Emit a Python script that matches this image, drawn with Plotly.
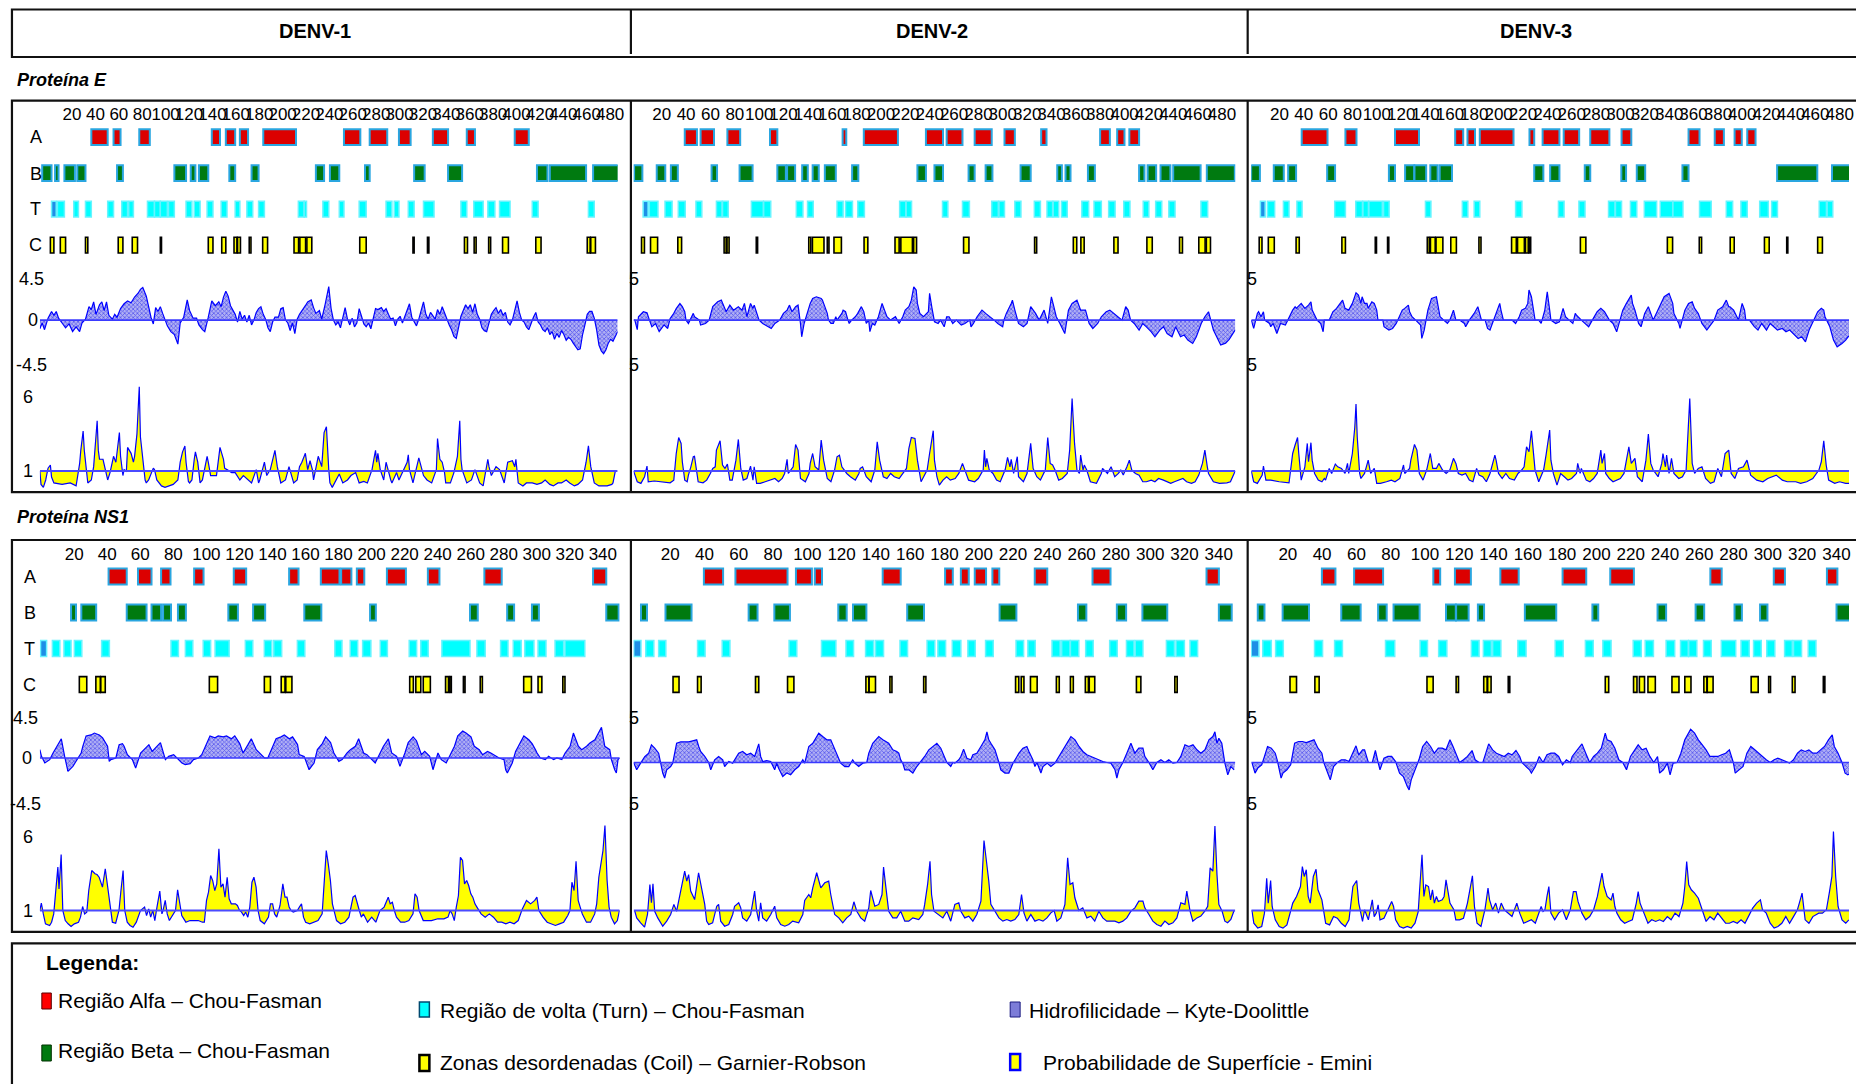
import plotly.graph_objects as go

W, H = 1856, 1084


def fx(p):
    return p / W


def fy(p):
    return 1 - p / H


COLUMNS = ["DENV-1", "DENV-2", "DENV-3"]
PROTEINS = ["Proteína E", "Proteína NS1"]
ROW_LABELS = ["A", "B", "T", "C"]
HYD_LABELS = ["4.5", "0", "-4.5"]
SUR_LABELS = ["6", "1"]
E_TICKS = list(range(20, 481, 20))
NS1_TICKS = list(range(20, 341, 20))
E_LEN = 495
NS1_LEN = 352

LEGEND_TITLE = "Legenda:"
LEGEND_ITEMS = [
    "Região Alfa – Chou-Fasman",
    "Região Beta – Chou-Fasman",
    "Região de volta (Turn) – Chou-Fasman",
    "Zonas desordenadas (Coil) – Garnier-Robson",
    "Hidrofilicidade – Kyte-Doolittle",
    "Probabilidade de Superfície - Emini",
]

# ---------------- secondary structure regions (start, end residue) ----------------
E1_A = [(45, 59), (64, 70), (86, 95), (148, 155), (160, 168), (172, 179), (192, 220), (261, 275), (283, 298),
        (308, 318), (337, 350), (366, 373), (407, 419)]
E1_B = [(3, 11), (14, 17), (22, 31), (33, 40), (67, 72), (116, 126), (130, 134), (137, 145), (163, 168), (182, 188),
        (237, 244), (249, 257), (279, 283), (321, 330), (350, 362), (426, 435), (437, 468), (474, 496)]
E1_T = [(11, 15), (16, 22), (30, 34), (40, 45), (59, 64), (71, 76), (77, 81), (93, 99), (99, 104), (104, 110),
        (111, 116), (126, 131), (133, 138), (144, 149), (156, 161), (168, 172), (178, 183), (188, 193), (222, 227),
        (227, 229), (243, 248), (257, 261), (274, 280), (297, 302), (304, 308), (316, 321), (329, 338), (361, 366),
        (372, 380), (384, 390), (394, 403), (422, 427), (470, 475)]
E1_C = [(10, 13), (18.5, 23), (40, 42), (68, 72), (80, 84.5), (104, 105), (145, 149), (156.5, 160), (167, 169.5),
        (170, 172.5), (180, 181.5), (191.5, 195.7), (218.3, 222.2), (223.3, 228.2), (229.3, 233.5), (274.5, 280),
        (320, 321), (332.4, 333.6), (364, 366.6), (372.3, 374), (384.7, 386.4), (396.6, 401.6), (425, 429.5),
        (469, 471.5), (472, 476)]

E2_A = [(43, 53), (56, 67), (78, 88.5), (113, 119), (172.6, 175.6), (190, 218), (241, 255), (258, 271), (281, 295),
        (305.5, 314), (335.6, 340), (384, 392), (398, 404), (408, 416)]
E2_B = [(1.4, 8.2), (20, 27), (31.6, 37.3), (65, 69.5), (88, 98.7), (119, 126), (127, 133.6), (139.4, 144),
        (148, 153), (158, 167), (180.4, 185.5), (234, 241), (248, 255), (276, 281), (290, 295.6), (318.7, 327),
        (348.8, 352.6), (355.6, 359.7), (374, 379.7), (416, 420.4), (423, 430), (433.6, 441.7), (444, 466.5),
        (471.6, 494.6)]
E2_T = [(8.8, 12.9), (13.9, 21), (26.8, 32.6), (37.7, 43.4), (52.2, 57), (69, 73.6), (74, 78.7), (97.7, 107.5),
        (107.8, 113.6), (134.6, 140), (143.8, 148.5), (168, 173), (175, 180.7), (185, 190.5), (219.4, 224.5),
        (224.8, 229.2), (254.6, 259), (271, 276.7), (295, 300.4), (301, 305.5), (314, 319), (330, 335),
        (340.4, 345), (345.5, 350), (352.3, 357), (369, 374.6), (379, 385), (391, 396.3), (403.4, 408.5),
        (419.4, 424), (429.6, 434.6), (440.4, 445.5), (466.8, 472.3)]
E2_C = [(7.5, 9.9), (14.9, 20.7), (37.3, 40.4), (75.3, 77), (77.7, 79.4), (101.7, 102.8), (144.8, 146.5),
        (147.8, 157.3), (160, 161.4), (165.5, 171.6), (190.2, 193.3), (215.6, 219), (220.4, 229.9), (230.9, 233.3),
        (271.9, 276.3), (330.2, 331.9), (362, 364.8), (368.2, 370.9), (395.3, 398.7), (422.4, 426.8),
        (449.2, 451.6), (465, 470.2), (471.2, 474.6)]

E3_A = [(42.4, 63.6), (78.3, 87.4), (119, 138.7), (168.4, 175), (178.5, 184.7), (188.6, 216.3), (229.4, 233.3),
        (240.2, 254), (257.5, 270.2), (279.3, 295), (305, 313), (360, 369), (381.5, 389), (397.8, 403.7),
        (408.2, 415)]
E3_B = [(0.9, 8.1), (19.5, 27.7), (31.3, 37.8), (63.3, 69.8), (114, 119), (127.3, 134.8), (135, 144.6), (148, 154),
        (155.7, 165.8), (233.3, 240.8), (246.4, 254), (274.8, 279.3), (304.8, 308.7), (317.5, 324.4), (355, 360),
        (432.7, 465.7), (477.8, 495)]
E3_T = [(8.5, 12.4), (14.3, 20.2), (27.4, 32), (38.5, 42.7), (69.5, 78.3), (86.8, 92.3), (92.7, 97.2),
        (97.6, 108.6), (109.6, 114.2), (144, 148.5), (174.3, 178.8), (184, 188.6), (218, 223.2), (253.2, 257.8),
        (270, 275), (294.3, 299.6), (300, 305), (312.3, 317.5), (323.7, 333.8), (336.8, 347), (347.2, 355.4),
        (369, 378.6), (391, 396.2), (403, 408.2), (418.4, 425.5), (428.2, 433), (467.3, 473.2), (473.8, 478.4)]
E3_C = [(7.5, 9.8), (15, 19.9), (37.8, 40.4), (75.4, 78.3), (102.8, 103.8), (112.9, 113.9), (145.5, 147.2),
        (148.1, 152), (152.7, 158.3), (164.8, 169.4), (187.9, 189.6), (214.7, 218.6), (219.6, 225.2),
        (226.1, 228.4), (229.1, 230.4), (271.2, 275.7), (342.6, 346.9), (368.8, 370.7), (394.2, 397.5),
        (422.3, 426.2), (440.6, 441.5), (466, 469.9)]

N1_A = [(42.6, 53.6), (60.4, 68.6), (74.4, 80.1), (94.4, 100.1), (118.4, 125.9), (151.9, 157.6), (171.1, 182.4),
        (183.4, 189.6), (192.9, 197.4), (211.1, 222.6), (235.9, 242.9), (270.1, 280.6), (335.9, 343.9)]
N1_B = [(19.9, 22.9), (26.1, 35.1), (53.6, 65.6), (68.6, 74.4), (75.6, 80.4), (84.6, 89.4), (115.1, 120.9),
        (130.1, 137.4), (161.1, 171.4), (200.9, 204.4), (261.4, 266.1), (283.9, 288.1), (298.9, 303.1),
        (343.9, 351.4)]
N1_T = [(1.4, 5.1), (8.6, 13.1), (15.6, 19.9), (21.9, 26.4), (38.4, 43.1), (80.4, 84.9), (89.1, 93.6),
        (99.9, 104.4), (107.1, 115.6), (125.4, 129.9), (136.9, 141.4), (142.6, 147.4), (156.9, 161.4),
        (179.6, 183.9), (188.9, 193.4), (196.4, 201.4), (207.1, 211.4), (224.6, 229.1), (231.6, 236.1),
        (244.4, 261.4), (265.6, 270.6), (279.9, 284.4), (287.6, 292.4), (294.6, 300.1), (302.6, 307.4),
        (312.9, 318.1), (318.9, 330.9)]
N1_C = [(24.9, 29.4), (34.9, 37.6), (37.9, 40.6), (103.6, 108.6), (136.9, 140.6), (147.1, 149.4), (149.9, 153.6),
        (224.9, 227.1), (228.6, 231.6), (233.1, 237.4), (246.6, 248.4), (249.1, 250.1), (257.4, 258.4),
        (267.6, 268.9), (293.9, 298.6), (302.6, 304.9), (317.6, 318.9)]

N2_A = [(42, 53.2), (60.4, 90.8), (95.7, 105), (106.7, 110.9), (146.3, 156.8), (182.7, 187.2), (191.9, 196.5),
        (200, 206.6), (210.3, 214.3), (235, 242.3), (268.7, 279.2), (335.2, 342.4)]
N2_B = [(5.3, 8.8), (19.6, 34.8), (68.1, 73.3), (83.1, 92.2), (120.4, 125.3), (129, 136.8), (160.6, 170.4),
        (214.5, 224.3), (260.2, 265.1), (282.9, 288.3), (297.8, 312.3), (342.4, 349.9)]
N2_T = [(1.1, 5.3), (8.1, 12.8), (15.6, 19.8), (38.3, 42.7), (52.7, 57.2), (91.7, 96.2), (110.6, 119),
        (124.9, 129.3), (136.3, 141), (142.1, 146.8), (156.4, 160.8), (172.2, 176.7), (178.5, 183), (186.9, 191.9),
        (196, 200.3), (206.3, 210.8), (224.1, 228.5), (231, 235.3), (245.1, 249.8), (250.7, 255.6), (255.8, 260.7),
        (264.7, 269.1), (278.7, 283.1), (288.5, 292.9), (293.6, 298.1), (311.8, 316.5), (317.4, 322.3),
        (325.6, 330)]
N2_C = [(24, 27.5), (38.3, 40.4), (72.1, 74), (90.8, 94.5), (136.5, 138.2), (138.4, 142.1), (150.5, 151.7),
        (170.2, 171.5), (223.8, 225.7), (227.1, 228.7), (232.5, 236.4), (247.6, 249.3), (255.8, 257.5),
        (264.5, 266.3), (266.8, 270), (294.3, 296.9), (316.7, 318.1)]

N3_A = [(42.2, 50.1), (61, 77.9), (107.2, 111.2), (119.8, 129.1), (146.3, 157), (182.6, 196.4), (210.4, 224.2),
        (268.8, 275.4), (305.8, 312.3), (336.8, 342.9)]
N3_B = [(4.8, 8.7), (19.3, 34.7), (53.5, 64.8), (75, 80), (84, 99.2), (114.6, 120.3), (120.5, 127.8),
        (133.2, 136.8), (160.6, 178.9), (200, 203.4), (238, 243), (260.2, 265.2), (282.9, 287.2), (297.8, 302.1),
        (342.4, 352)]
N3_T = [(1, 5.5), (7.7, 12.7), (15.2, 19.7), (37.9, 42.6), (49.6, 54.2), (79.3, 84.7), (99.5, 103.8),
        (110.3, 115.1), (129.4, 133.9), (136.4, 141.1), (141.8, 146.6), (156.5, 161.3), (178.3, 183),
        (195.9, 200.5), (206.1, 210.9), (223.8, 228.5), (230.8, 235.6), (243, 248), (251.4, 255.9), (256.2, 260.9),
        (264.8, 269.3), (275.2, 283.6), (286.7, 291.5), (294, 298.5), (301.7, 306.4), (312.1, 316.6),
        (317.3, 322), (325.9, 330.4)]
N3_C = [(23.6, 27.4), (38.1, 40.6), (103.5, 107.1), (120.5, 121.9), (136.6, 138.6), (138.9, 140.9),
        (150.9, 151.8), (207.5, 209.5), (224, 226), (227.4, 230.4), (232.4, 236.7), (246.4, 250.5), (253.9, 257.5),
        (265, 266.8), (267, 270.4), (292.6, 296.7), (302.8, 303.9), (316.6, 318.2), (334.7, 335.6)]

# ---------------- Kyte-Doolittle hydrophilicity (residue, value) ----------------
E1_HYD = [(1, -0.9), (3, -0.3), (5, -1.0), (8, 0.2), (11, 0.9), (13, 0.5), (15, 0.9), (17, 0.2), (20, -0.3),
          (23, -0.8), (26, -0.4), (29, -1.2), (32, -0.7), (35, -1.2), (37, -0.3), (40, 0.1), (43, 1.4), (45, 1.1),
          (47, 1.9), (49, 0.6), (52, 1.6), (54, 1.9), (56, 1.0), (58, 1.9), (60, 0.5), (63, 0.1), (65, 0.6),
          (67, 0.3), (70, 1.2), (73, 1.7), (76, 2.0), (79, 1.8), (82, 2.4), (85, 2.8), (87, 3.2), (89, 3.4),
          (92, 2.5), (94, 1.2), (96, 0.3), (98, -0.4), (100, 1.3), (102, 0.9), (104, 1.4), (106, 0.7), (108, 0.0),
          (110, -0.6), (113, -1.2), (116, -1.5), (119, -2.5), (121, -0.3), (124, 0.3), (127, 2.1), (129, 1.0),
          (132, 0.2), (135, 0.2), (137, -0.5), (140, -1.0), (142, -1.2), (145, 0.3), (148, 2.0), (151, 1.5),
          (154, 1.9), (156, 1.4), (158, 2.4), (160, 3.0), (162, 2.5), (164, 1.5), (166, 1.1), (168, 0.6),
          (170, -0.2), (172, 0.9), (174, 0.1), (176, 0.5), (178, -0.2), (180, 0.5), (182, -0.5), (184, 0.0),
          (186, 0.8), (188, 1.2), (190, 1.4), (192, 0.6), (194, 0.1), (196, -0.8), (198, -1.2), (200, -0.2),
          (202, 0.3), (205, 0.3), (207, 1.2), (209, 1.3), (211, 0.0), (213, -0.3), (215, -1.1), (217, -0.3),
          (219, -1.4), (221, 0.1), (223, 0.6), (226, 1.1), (228, 1.5), (230, 1.9), (233, 2.1), (235, 1.3),
          (237, 0.7), (240, 1.0), (242, 0.1), (245, 1.7), (248, 3.5), (250, 1.2), (252, 0.0), (254, -0.5),
          (256, -0.2), (258, -0.8), (260, 0.4), (262, 1.3), (264, 0.1), (266, -0.5), (268, 0.2), (270, -0.7),
          (272, -0.3), (274, 1.2), (276, 0.4), (278, -0.4), (280, -0.7), (282, -0.3), (284, -0.9), (286, 0.1),
          (288, 1.2), (290, 1.1), (293, 1.3), (295, 0.9), (297, 1.2), (299, 0.6), (301, 0.1), (303, 0.2),
          (305, -0.6), (307, 0.1), (309, 0.4), (311, -0.3), (313, 0.3), (315, 1.1), (317, 1.7), (319, 0.3),
          (321, -0.2), (323, -0.6), (325, 0.1), (327, 1.0), (329, 1.9), (331, 0.6), (333, 0.1), (335, 0.8),
          (337, 0.4), (339, 0.1), (341, 1.1), (343, 0.6), (345, 1.4), (347, 0.7), (349, 0.0), (351, -0.5),
          (353, -1.0), (355, -1.7), (357, -1.9), (359, -0.6), (361, 0.4), (363, 1.0), (365, 1.6), (367, 1.2),
          (369, 1.6), (371, 0.8), (373, 1.7), (375, 0.6), (377, 0.1), (379, -0.8), (381, -1.1), (383, -1.2),
          (385, -0.4), (387, 0.6), (389, 1.0), (391, 1.3), (393, 0.7), (395, 1.1), (397, 0.5), (399, 0.8),
          (401, -0.2), (403, -0.5), (405, 0.0), (407, 1.0), (409, 2.0), (411, 0.8), (413, 0.0), (415, -0.2),
          (417, -0.7), (419, -1.0), (421, -0.3), (423, 0.3), (425, 0.8), (427, -0.2), (429, -0.5), (431, -1.0),
          (433, -1.2), (435, -0.8), (437, -1.5), (439, -1.2), (441, -2.0), (443, -1.4), (445, -1.8), (447, -1.1),
          (449, -1.5), (451, -2.1), (453, -1.8), (455, -2.0), (457, -2.4), (459, -2.8), (461, -3.1), (463, -3.0),
          (465, -1.5), (467, -0.5), (469, 0.6), (471, 0.9), (473, 0.9), (475, 0.2), (477, -1.0), (479, -2.6),
          (481, -3.2), (483, -3.5), (485, -3.1), (487, -2.4), (489, -2.0), (491, -2.2), (493, -1.6), (495, -1.2)]

E2_HYD = [(1, 0), (2, 0), (4, -1.0), (5, 0.35), (9, 0.87), (12, 0.76), (14, 0), (16, -0.7), (19, -0.35),
          (22, -1.2), (26, -0.5), (29, -0.87), (31, 0.17), (34, 0.7), (36, 1.2), (39, 1.74), (41, 1.4), (43, 0.87),
          (44, 0), (46, -0.35), (50, 0.7), (51, 0.35), (55, 0), (56, -0.52), (60, -0.35), (63, 0), (66, 1.4),
          (70, 1.91), (73, 2.08), (75, 1.4), (77, 0.87), (80, 1.56), (83, 1.04), (87, 1.4), (90, 1.04), (92, 1.74),
          (94, 0.35), (97, 1.74), (99, 1.22), (100, 1.56), (104, 0), (107, -0.35), (111, -0.7), (114, -0.87),
          (117, -0.35), (121, 0), (124, 0.7), (127, 1.04), (129, 1.56), (131, 0.87), (134, 1.4), (136, 1.56),
          (138, -0.35), (139, -1.74), (141, -0.35), (144, 1.04), (146, 1.74), (148, 2.26), (151, 2.43),
          (155, 2.26), (156, 2.08), (158, 1.4), (160, 0.7), (161, 0), (163, -0.35), (165, -0.35), (167, 0.35),
          (168, 0), (172, 0.7), (173, 1.04), (175, 0.87), (177, 0), (178, -0.35), (180, 0), (183, 0.35),
          (185, 0.7), (188, 1.4), (190, 0.87), (192, -0.35), (194, 0), (195, -1.2), (197, -0.35), (199, -0.52),
          (202, 0.35), (205, 1.74), (207, 1.04), (209, 0.35), (212, 0), (216, 0.35), (219, -0.35), (222, 0.35),
          (224, 1.04), (227, 1.4), (229, 2.08), (231, 3.47), (233, 3.13), (234, 1.74), (236, 0.7), (239, 0.35),
          (243, 0.87), (244, 2.78), (246, 1.22), (248, -0.17), (251, -0.35), (253, 0), (256, -0.7), (258, 0.35),
          (260, 0.35), (263, -0.35), (266, 0), (270, -0.52), (273, -0.35), (277, 0), (278, -0.7), (280, -0.35),
          (283, 0.35), (287, 1.04), (290, 0.7), (294, 0.35), (297, 0), (300, -0.35), (304, -0.7), (305, 0),
          (307, 0.7), (311, 1.74), (312, 2.08), (314, 1.04), (317, -0.35), (321, -0.7), (324, -0.35), (327, 1.4),
          (331, 0.7), (334, 0), (338, 1.04), (341, -0.35), (344, 2.43), (346, 1.4), (348, 0.35), (351, -0.35),
          (355, -1.4), (358, 1.04), (361, 1.74), (365, 2.08), (368, 1.04), (372, 1.04), (375, -0.35), (378, -0.87),
          (382, -0.35), (385, 0.35), (389, 0.87), (392, 1.04), (395, 0.7), (399, 0.35), (402, 0), (405, 1.4),
          (407, 1.04), (409, 0), (412, -0.35), (416, -1.04), (419, -0.35), (422, -0.7), (426, -1.22), (429, -1.74),
          (433, -1.04), (436, -0.7), (439, -1.4), (443, -1.74), (446, -0.7), (450, -1.74), (453, -1.56),
          (456, -2.08), (460, -2.43), (463, -1.74), (467, -0.35), (470, 0.35), (473, 0.87), (477, -1.04),
          (480, -1.74), (483, -2.6), (487, -2.4), (490, -2.0), (494, -1.2), (495, -1.0)]

E3_HYD = [(1, 0), (3, -0.87), (6, 0.69), (7, 0.87), (9, 0.35), (11, 0.87), (12, 0), (16, -0.35), (17, -0.69),
          (19, -0.35), (22, -1.39), (25, -0.35), (29, -0.52), (32, 0.35), (35, 1.04), (37, 1.39), (38, 1.22),
          (42, 1.74), (45, 1.22), (48, 1.56), (50, 1.91), (51, 1.04), (55, 0), (58, -0.35), (60, -1.22), (61, 0),
          (65, 0), (68, 0.87), (71, 1.22), (74, 1.74), (76, 2.08), (78, 1.22), (81, 1.04), (84, 1.74), (87, 2.85),
          (89, 2.6), (91, 1.74), (92, 2.43), (94, 1.74), (96, 1.74), (97, 1.22), (100, 1.91), (102, 1.74),
          (104, 1.04), (105, 0), (109, 0), (110, -0.69), (114, -1.04), (117, -0.87), (120, -0.35), (123, 0.52),
          (125, 1.04), (127, 1.22), (130, 1.56), (131, 0.87), (133, 0.35), (136, 0), (140, -0.52), (141, -1.91),
          (143, -1.04), (146, 1.04), (148, 1.74), (149, 2.26), (153, 2.43), (154, 1.74), (156, 0.35), (159, 0),
          (162, -0.35), (164, 0), (167, 1.04), (169, 0), (172, 0), (176, -0.35), (177, -0.69), (180, 0),
          (184, 0.69), (187, 1.39), (189, 0.35), (190, 0), (193, 0), (195, -0.87), (197, -1.04), (200, 0),
          (203, 1.04), (205, 1.74), (206, 1.04), (208, 0), (211, 0), (215, 0), (218, -0.35), (221, 0.35),
          (223, 1.04), (226, 1.22), (228, 1.74), (229, 3.13), (231, 2.43), (233, 1.04), (234, 0), (237, 0),
          (239, -0.35), (242, 1.04), (244, 2.95), (246, 1.04), (247, 0), (251, -0.35), (254, -0.17), (257, 1.22),
          (259, 0.35), (262, 0), (265, -0.35), (267, 0.69), (268, 0.52), (272, 0), (275, -0.35), (278, -0.69),
          (281, 0), (285, 0.87), (288, 1.22), (291, 0.87), (295, 0), (298, -0.35), (301, -1.22), (303, -0.35),
          (306, 1.04), (309, 1.74), (313, 2.6), (314, 1.74), (316, 1.04), (319, -0.35), (321, -0.69), (324, 0.69),
          (327, 1.39), (331, 0), (334, 0.87), (337, 1.74), (340, 2.43), (344, 2.78), (347, 1.74), (348, 0.69),
          (352, -0.35), (353, -0.87), (355, 0), (357, 1.04), (360, 1.74), (363, 1.91), (365, 1.22), (368, 0.69),
          (371, -0.35), (375, -1.04), (378, -0.52), (381, 0), (384, 1.04), (388, 1.39), (391, 2.08), (393, 1.39),
          (394, 1.39), (397, 1.04), (401, 0), (404, 1.74), (406, 1.04), (407, 0), (410, 0), (414, -0.69),
          (417, -1.04), (420, -0.35), (424, -1.04), (427, -0.35), (430, -0.69), (433, -1.04), (437, -0.87),
          (440, -1.22), (443, -1.04), (446, -1.39), (450, -1.91), (453, -1.74), (456, -2.26), (459, -1.04),
          (463, 0), (466, 0.87), (469, 1.22), (471, 1.04), (472, 0.35), (476, -0.69), (479, -2.08), (482, -2.78),
          (486, -2.43), (489, -2.08), (491, -1.74), (495, -1.4)]

N1_HYD = [(1, 0.87), (2, 0.17), (4, -0.52), (7, -0.17), (9, 0.52), (12, 1.5), (14, 2.0), (16, 0.17), (17, -0.52),
          (18, -1.39), (21, -0.87), (23, -0.35), (26, 0.52), (27, 1.22), (29, 2.3), (32, 2.4), (34, 2.6),
          (37, 2.4), (39, 2.1), (42, 1.22), (43, -0.35), (44, -0.17), (47, 0), (49, 1.39), (51, 1.5), (52, 1.22),
          (54, 0.35), (57, -0.17), (59, -1.04), (62, 0.52), (64, 0.87), (67, 1.39), (69, 0.69), (72, 1.22),
          (74, 1.6), (77, -0.17), (79, 0.17), (82, 0.35), (87, -0.52), (89, -0.69), (92, -0.59), (94, -0.17),
          (97, 0), (99, 0.35), (102, 1.5), (104, 2.3), (107, 2.1), (109, 2.3), (112, 2.2), (114, 2.3), (117, 2.0),
          (119, 2.3), (122, 1.5), (124, 0.52), (127, 1.39), (129, 2.0), (132, 0.87), (134, 0.52), (137, 0),
          (139, 0), (142, 1.2), (144, 2.0), (147, 2.2), (149, 2.4), (152, 2.0), (154, 2.2), (157, 1.4),
          (158, 0.35), (161, 0.17), (163, -0.87), (164, -1.22), (167, -0.52), (169, 0.87), (172, 1.5), (174, 2.2),
          (177, 1.6), (179, 0.52), (182, -0.35), (184, -0.17), (187, 0.52), (189, 0.87), (192, 1.22), (194, 2.0),
          (197, 0.52), (199, 0.35), (202, -0.17), (204, -0.52), (207, 0.52), (209, 1.22), (212, 2.0), (214, 0.52),
          (217, 0.17), (219, -0.87), (222, 0.52), (224, 1.6), (227, 2.2), (229, 1.8), (232, 0.35), (234, 0.69),
          (237, 0.17), (239, -1.22), (242, 0.52), (244, -0.17), (247, -0.52), (249, 0.17), (252, 1.22), (254, 2.3),
          (257, 2.8), (259, 2.6), (262, 2.2), (264, 1.22), (267, 0.87), (269, 0.35), (272, 0.69), (274, 0.52),
          (277, 0.17), (279, 0), (282, -0.17), (283, -1.22), (284, -1.56), (287, -0.52), (289, 0.69), (292, 1.7),
          (294, 2.3), (297, 1.9), (299, 1.5), (301, 0.87), (302, 0.52), (304, 0), (307, -0.17), (309, 0.17),
          (312, -0.17), (314, 0), (317, -0.17), (319, 0.52), (322, 1.22), (324, 2.6), (327, 1.22), (329, 0.87),
          (332, 1.22), (334, 1.56), (337, 1.9), (341, 3.2), (343, 1.22), (346, 0.87), (347, -0.17), (349, -1.22),
          (350, -1.56), (351, -0.17), (352, 0)]

N2_HYD = [(1, 0), (2.8, -0.76), (5.1, -0.07), (7.5, 0.6), (9.8, 0.97), (11.4, 1.84), (13.3, 1.49), (15.6, 0.97),
          (16.8, -0.07), (18, -1.1), (19.1, -1.63), (20.3, -0.76), (22.6, -0.42), (23.8, -0.07), (26.1, 2.0),
          (28.5, 2.15), (30.8, 2.15), (33.1, 2.15), (35.5, 2.26), (37.8, 2.36), (39, 1.67), (40.1, 1.15),
          (42.5, 0.63), (44.8, 0), (46, -0.76), (48.3, 0.28), (50.6, 0.63), (53, 0.28), (54.1, -0.42), (56.5, 0.1),
          (58.8, -0.07), (61.1, 0.63), (62.3, 0.97), (64.6, 1.15), (67, 0.8), (69.3, 0.97), (71.6, 0.63),
          (74, 1.94), (75.1, 0.63), (76.3, 0.1), (78.6, 0.2), (81, 0.1), (83.3, -0.76), (84.5, -0.07),
          (85.6, -0.59), (88, -1.46), (90.3, -1.1), (92.6, -1.28), (95, -0.76), (97.3, -0.42), (99.7, 0.28),
          (100.8, -0.07), (102, 0.97), (103.2, 1.67), (105.5, 2.0), (109, 3.05), (111.3, 2.7), (113.7, 2.36),
          (116, 2.36), (118.3, 1.32), (120.7, 0.28), (121.8, -0.07), (124.2, -0.42), (126.5, -0.42), (128.8, 0.28),
          (130, -0.07), (132.3, -0.42), (134.7, -0.07), (137, 0), (138.2, 0.97), (140.5, 2.0), (144, 2.7),
          (146.4, 2.36), (149.8, 2.0), (152.2, 1.32), (154.5, 1.15), (155.7, 0.97), (156.8, 0.28), (158, -0.07),
          (159.2, -0.76), (161.5, -0.76), (163.9, -1.1), (166.2, -0.42), (168.5, 0.1), (170.8, 0.63),
          (173.2, 1.32), (175.5, 1.67), (177.9, 2.0), (180.2, 1.49), (181.4, 0.97), (182.5, 0.63), (183.7, 0),
          (186, -0.42), (187.2, 0), (188.4, -0.07), (190.7, 0.28), (191.9, 0.63), (193.5, 1.39), (195.4, 0.45),
          (197.7, 0.28), (198.9, 0.8), (201.2, 0.97), (203.6, 1.67), (205.9, 2.36), (207.1, 3.2), (208.2, 2.36),
          (209.4, 2.0), (211.8, 1.32), (214.1, 0), (215.2, -0.76), (217.6, -1.1), (219.9, -1.1), (222.3, -0.07),
          (224.6, 0.63), (225.8, 0.97), (228.1, 1.49), (230.4, 1.67), (231.6, 1.15), (233.9, 0.28), (235.1, -0.42),
          (236.3, 0), (238.6, -1.1), (239.8, -0.42), (242.2, -0.07), (244.4, -0.42), (246.8, -0.07), (249.1, 0.63),
          (251.5, 1.32), (253.8, 2.0), (256.1, 2.7), (258.5, 2.36), (260.8, 1.67), (263.1, 1.15), (265.4, 0.8),
          (267.8, 0.63), (270.1, 0.45), (272.5, 0.28), (274.7, 0.1), (277.1, 0), (279.4, -0.07), (281.8, -0.76),
          (282.9, -1.63), (284.1, -0.76), (286.4, 0), (288.7, 0.97), (291.1, 2.0), (293.4, 0.97), (295.7, 1.49),
          (298.1, 1.49), (299.2, 0.63), (301.6, 0), (303.9, -0.76), (306.2, 0), (308.6, 0.28), (310.9, 0),
          (313.2, 0.28), (315.6, -0.07), (317.9, 0), (320.2, 0.63), (322.6, 1.84), (324.9, 1.67), (327.3, 1.84),
          (329.6, 1.32), (331.9, 0.97), (334.3, 1.32), (336.6, 2.36), (338.9, 2.7), (340.1, 3.2), (341.3, 2.0),
          (342.4, 2.53), (344.1, 2.0), (345.9, -0.07), (347.6, -1.28), (349.4, -0.42), (351.3, -0.76)]

N3_HYD = [(1.4, 0), (3.2, -1.11), (4.8, -0.59), (7.1, -0.24), (8.7, 0.63), (10.5, 1.67), (12.7, 1.49), (15, 0.97),
          (16.1, 0.28), (17.3, -0.76), (18.4, -1.63), (19.5, -1.11), (21.8, -0.76), (24, -0.24), (26.3, 2.01),
          (28.6, 2.19), (30.8, 2.19), (33.1, 2.08), (35.4, 2.19), (37.6, 2.36), (39.9, 1.49), (42.2, 0.97),
          (43.3, 0), (45.6, -1.11), (47.1, -1.81), (49, -0.42), (51.2, 0), (53.5, 0.28), (55.8, 0.28), (58, 0.1),
          (60.3, 0.97), (62.1, 1.74), (63.7, 0.8), (65.9, 1.32), (67.1, 1.32), (69.3, 0), (71.6, 0), (73.4, 1.25),
          (75, 0), (76.1, -0.76), (78.4, 0.45), (80.7, 0.63), (82.9, 0.63), (85.2, 0.1), (87.5, -1.11),
          (89.7, -1.46), (92, -2.5), (93.1, -2.85), (94.3, -1.81), (96.5, -0.76), (98.8, 0.28), (101, 1.67),
          (103.3, 2.19), (105.6, 1.67), (107.8, 0.97), (110.1, 1.49), (112.4, 1.49), (114.6, 1.32), (116.9, 2.36),
          (118.7, 1.67), (120.3, 0.97), (122.5, 0), (124.8, 0.28), (127.1, 0.63), (129.8, 1.25), (131.6, 0.28),
          (133.9, 0), (136.1, 0), (139.5, 1.94), (141.8, 1.32), (144, 0.97), (146.3, 0.8), (148.6, 0.63),
          (150.9, 0.97), (153.1, 0.8), (155.4, 1.25), (157.6, 0.63), (158.8, 0), (161, -0.42), (163.3, -0.76),
          (164.4, -1.11), (166.7, -0.42), (169, 0.63), (171.2, 0), (173.5, 0.8), (175.8, 0.97), (178, 0.97),
          (180.3, 0.63), (182.6, -0.24), (184.8, 0.28), (187.1, 0), (188.2, 0.63), (190.5, 1.15), (193.9, 1.94),
          (196.1, 0.97), (198.4, 0), (200.7, 0.63), (202.9, 0.97), (205.2, 1.49), (207.5, 3.06), (208.6, 2.36),
          (210.9, 2.19), (213.1, 1.49), (215.4, 0.28), (217.7, 0), (219.9, -0.76), (222.2, 0.63), (224.5, 1.32),
          (226.7, 1.84), (229, 1.32), (231.3, 1.49), (233.5, 0.63), (235.8, 0), (238, 0.63), (239.2, -1.11),
          (241.4, -0.76), (243.7, -0.07), (245.3, -1.28), (247.1, -0.07), (249.4, 0), (251.6, 0.97), (253.9, 2.36),
          (256.2, 3.06), (257.3, 3.47), (259.6, 3.06), (261.8, 2.36), (264.1, 1.84), (266.3, 1.32), (268.6, 0.63),
          (270.9, 0.63), (273.1, 0.63), (275.4, 0.8), (277.7, 0.97), (279.9, 1.32), (282.2, 0), (283.3, -1.11),
          (285.6, -0.76), (287.9, -0.42), (290.1, 0.97), (292.4, 1.67), (294.7, 1.32), (296.9, 0.97), (299.2, 0.63),
          (301.4, 0.28), (303.7, 0), (306, 0.28), (308.2, 0.45), (310.5, 0.28), (312.8, 0.1), (315, -0.07),
          (317.3, 0.28), (319.6, 0.97), (321.8, 1.32), (324.1, 1.15), (326.3, 1.32), (328.6, 0.97), (330.9, 0.97),
          (333.1, 1.32), (335.4, 1.67), (337.7, 2.36), (339.9, 2.88), (341.1, 1.67), (343.3, 0.97), (345.6, 0),
          (347.4, -1.11), (349, -1.28), (352, -1.0)]

# ---------------- Emini surface probability (residue, value) ----------------
E1_SUR = [(1, 1.0), (2, 0.1), (4, -0.1), (6, 0.4), (8, 1.2), (10, 1.4), (11, 0.6), (13, 0.2), (20, 0.1), (27, 0.2),
          (32, 0.0), (35, 1.5), (36, 2.4), (38, 3.7), (39, 2.4), (41, 0.9), (42, 0.2), (45, 0.4), (47, 1.3),
          (50, 4.4), (51, 2.4), (52, 1.8), (55, 1.8), (57, 1.1), (59, 0.4), (61, 0.9), (64, 2.0), (66, 1.6),
          (68, 3.0), (69, 3.6), (70, 2.0), (72, 0.7), (73, 1.1), (75, 1.0), (76, 2.6), (79, 2.2), (81, 1.6),
          (82, 2.0), (84, 3.5), (86, 6.7), (87, 3.3), (89, 1.6), (91, 0.4), (92, 0.2), (94, 0.4), (98, 1.2),
          (99, 1.1), (101, 0.4), (103, 0.2), (105, 0.0), (108, -0.1), (112, 0.0), (115, 0.1), (119, 0.4),
          (121, 1.6), (123, 2.3), (125, 2.7), (126, 1.6), (128, 0.3), (129, 0.2), (131, 0.4), (133, 1.8),
          (134, 2.3), (136, 1.6), (138, 0.2), (140, 0.4), (144, 2.0), (145, 1.6), (147, 0.7), (152, 0.7),
          (155, 2.6), (158, 1.8), (159, 1.2), (161, 1.1), (165, 0.9), (168, 0.9), (172, 0.4), (175, 0.7),
          (179, 0.4), (182, 0.2), (186, 1.1), (188, 0.2), (189, 0.4), (193, 1.6), (195, 0.7), (198, 1.1),
          (202, 2.4), (204, 1.3), (207, 0.2), (211, 0.4), (214, 1.3), (218, 0.2), (221, 0.4), (223, 1.3),
          (225, 1.6), (228, 2.2), (230, 1.1), (232, 1.7), (234, 1.1), (235, 0.4), (239, 2.0), (241, 1.6),
          (242, 1.3), (244, 3.6), (246, 4.0), (248, 1.1), (249, 0.2), (251, -0.1), (253, 0.2), (257, 0.8),
          (260, 0.2), (264, 0.4), (267, 0.7), (271, 0.9), (274, 0.2), (278, 0.3), (281, 0.2), (285, 1.1),
          (287, 2.0), (288, 2.4), (289, 1.6), (290, 2.2), (292, 1.1), (294, 0.7), (295, 0.4), (297, 1.6),
          (299, 0.9), (301, 0.4), (302, 0.2), (306, 0.9), (308, 0.4), (311, 0.9), (315, 1.6), (316, 2.1),
          (317, 1.1), (320, 0.2), (324, 1.6), (325, 1.9), (327, 1.3), (329, 0.7), (332, 0.4), (336, 0.2),
          (340, 1.1), (341, 3.2), (343, 1.8), (345, 1.6), (347, 0.9), (348, 0.2), (352, 0.2), (355, 0.9),
          (358, 2.0), (360, 4.4), (361, 1.8), (362, 1.1), (366, 0.2), (370, 0.4), (373, 1.1), (377, 0.2),
          (380, 0.0), (384, 1.8), (385, 1.3), (387, 0.7), (391, 1.3), (394, 1.1), (398, 0.2), (401, 1.6),
          (405, 1.7), (407, 1.3), (408, 1.8), (410, 0.2), (414, 0.0), (417, 0.2), (422, 0.2), (426, 0.1),
          (430, 0.2), (433, 0.4), (437, 0.1), (440, 0.0), (444, 0.2), (447, 0.2), (451, 0.4), (454, 0.2),
          (458, 0.0), (461, 0.1), (465, 0.4), (468, 1.6), (470, 2.7), (472, 1.3), (475, 0.2), (479, 0.0),
          (483, 0.0), (486, 0.0), (490, 0.1), (491, 0.2), (493, 1.0)]

E2_SUR = [(1, 1.0), (4, 0.28), (7, 0.17), (10, 0.62), (12, 1.34), (13, 0.28), (18, 0.33), (25, 0.28), (31, 0.21),
          (34, 0.39), (36, 2.19), (38, 3.27), (40, 2.87), (41, 1.63), (43, 0.39), (45, 0.28), (46, 0.73),
          (48, 1.29), (50, 1.97), (51, 2.0), (53, 0.84), (54, 0.28), (58, 0.21), (61, 0.39), (64, 0.84),
          (66, 1.18), (68, 1.29), (69, 2.42), (72, 3.05), (74, 1.41), (76, 1.18), (78, 1.47), (80, 0.39),
          (82, 0.39), (85, 1.74), (87, 3.14), (89, 1.18), (91, 0.39), (94, 0.5), (97, 1.34), (99, 0.39),
          (100, 1.29), (102, 0.17), (105, 0.17), (109, 0.28), (114, 0.39), (117, 0.5), (120, 0.28), (123, 0.5),
          (125, 0.84), (127, 1.79), (128, 0.84), (130, 1.07), (132, 1.29), (134, 2.8), (136, 2.42), (138, 0.5),
          (142, 0.28), (145, 0.84), (146, 1.52), (148, 2.19), (150, 1.29), (153, 1.07), (155, 3.09), (157, 1.74),
          (160, 0.5), (163, 0.28), (166, 1.07), (168, 1.97), (170, 2.08), (172, 1.29), (174, 1.07), (176, 0.84),
          (179, 0.62), (183, 0.39), (186, 0.84), (187, 1.18), (189, 1.29), (191, 0.84), (192, 0.62), (196, 0.28),
          (199, 1.07), (201, 2.98), (203, 1.74), (206, 0.62), (209, 0.5), (212, 0.84), (215, 0.62), (219, 0.5),
          (222, 0.84), (225, 1.18), (227, 2.53), (229, 3.27), (232, 3.2), (234, 1.74), (237, 0.28), (242, 1.07),
          (244, 2.19), (247, 3.73), (248, 1.74), (250, 0.62), (252, 0.05), (255, 0.39), (258, 0.62), (261, 0.39),
          (265, 0.5), (268, 0.84), (271, 1.52), (273, 1.07), (276, 0.39), (281, 0.28), (284, 0.5), (288, 1.07),
          (289, 2.42), (290, 1.29), (291, 1.86), (293, 1.07), (296, 0.84), (299, 0.39), (302, 0.28), (306, 1.07),
          (308, 1.92), (310, 1.29), (311, 1.79), (313, 0.84), (316, 1.97), (317, 0.62), (321, 0.28), (324, 0.84),
          (325, 1.63), (327, 2.87), (329, 1.18), (332, 0.62), (335, 0.39), (339, 1.07), (341, 3.27), (343, 1.52),
          (345, 1.41), (347, 1.07), (350, 0.39), (353, 0.5), (357, 0.84), (359, 2.42), (361, 5.91), (363, 2.87),
          (365, 1.07), (367, 0.84), (368, 2.08), (370, 1.07), (371, 1.41), (373, 1.07), (376, 0.28), (381, 0.17),
          (385, 0.84), (386, 1.18), (390, 0.84), (393, 1.29), (396, 0.62), (399, 0.84), (401, 1.07), (403, 0.73),
          (406, 1.29), (408, 1.74), (410, 1.07), (413, 0.84), (416, 0.73), (419, 0.28), (422, 0.28), (426, 0.39),
          (429, 0.28), (432, 0.5), (436, 0.39), (439, 0.28), (442, 0.17), (445, 0.28), (449, 0.39), (452, 0.5),
          (455, 0.28), (459, 0.17), (462, 0.28), (465, 0.73), (468, 1.52), (470, 2.42), (472, 1.29), (473, 0.84),
          (477, 0.28), (482, 0.17), (488, 0.21), (491, 0.28), (494, 0.84), (495, 1.0)]

E3_SUR = [(1, 1.0), (3, 0.28), (6, 0.17), (10, 0.73), (11, 1.34), (13, 0.39), (17, 0.39), (24, 0.28), (32, 0.21),
          (35, 2.19), (37, 2.76), (39, 3.27), (40, 2.19), (42, 0.39), (45, 1.29), (46, 2.19), (47, 2.87),
          (48, 1.63), (50, 2.92), (51, 1.74), (53, 0.84), (56, 0.39), (59, 0.28), (61, 0.5), (62, 0.39),
          (65, 1.18), (67, 0.84), (70, 1.47), (72, 1.29), (75, 1.18), (78, 0.84), (80, 1.52), (81, 0.84),
          (84, 2.19), (86, 3.97), (87, 5.53), (88, 3.32), (90, 0.84), (91, 0.5), (94, 0.84), (97, 1.74), (99, 0.84),
          (102, 1.18), (104, 0.17), (107, 0.17), (112, 0.28), (116, 0.39), (119, 0.28), (123, 0.5), (126, 1.41),
          (127, 0.84), (131, 1.18), (132, 1.74), (135, 2.8), (137, 2.42), (139, 0.84), (142, 0.39), (145, 1.07),
          (148, 2.19), (150, 1.18), (153, 1.18), (155, 1.52), (158, 1.07), (161, 0.84), (164, 1.07), (167, 1.86),
          (169, 1.52), (171, 0.84), (174, 0.73), (177, 0.84), (180, 0.39), (183, 0.28), (186, 1.18), (188, 0.73),
          (191, 0.62), (194, 0.28), (197, 0.84), (201, 2.08), (202, 1.74), (204, 0.84), (207, 0.5), (210, 0.84),
          (213, 0.5), (217, 0.39), (220, 0.84), (223, 1.07), (225, 1.29), (227, 2.64), (229, 2.31), (231, 3.73),
          (233, 2.19), (234, 1.07), (237, 0.28), (241, 1.07), (243, 2.08), (246, 3.77), (247, 1.74), (249, 0.84),
          (252, 0.05), (255, 0.84), (258, 0.62), (261, 0.39), (264, 0.5), (268, 0.84), (269, 1.52), (271, 0.84),
          (272, 1.18), (276, 0.39), (279, 0.28), (282, 0.5), (285, 0.84), (288, 2.42), (289, 1.52), (291, 2.19),
          (292, 0.84), (295, 0.5), (298, 0.28), (301, 0.39), (304, 0.5), (307, 0.84), (311, 2.64), (313, 1.52),
          (316, 1.86), (318, 0.62), (322, 0.28), (325, 1.74), (327, 3.5), (329, 1.52), (331, 1.07), (335, 0.62),
          (338, 1.52), (339, 2.19), (341, 1.29), (342, 2.08), (344, 0.84), (346, 1.86), (348, 0.84), (352, 0.5),
          (355, 0.62), (358, 1.07), (361, 5.91), (363, 1.52), (365, 0.84), (368, 1.18), (371, 1.29), (374, 0.5),
          (378, 0.17), (381, 0.28), (384, 1.18), (387, 0.62), (390, 2.19), (393, 2.42), (395, 0.84), (398, 0.5),
          (401, 1.18), (405, 1.29), (408, 1.74), (411, 0.73), (416, 0.39), (421, 0.28), (425, 0.5), (432, 0.73),
          (437, 0.39), (441, 0.28), (448, 0.28), (452, 0.17), (457, 0.28), (462, 0.5), (467, 1.07), (469, 1.63),
          (471, 3.05), (473, 1.41), (475, 0.39), (480, 0.17), (484, 0.28), (489, 0.17), (492, 0.17), (495, 0.8)]

N1_SUR = [(1, 1.0), (1.9, 1.5), (3.1, 0.77), (4.4, 0.1), (6.9, -0.01), (8.1, 0.21), (9.4, 0.77), (10.6, 2.35),
          (11.9, 3.93), (12.6, 2.46), (13.9, 4.78), (14.9, 1.0), (16.4, 0.32), (18.1, 0.1), (19.9, -0.08),
          (21.9, 0.1), (24.4, 0.21), (25.6, 0.55), (26.9, 1.27), (28.1, 0.77), (29.4, 0.89), (30.6, 2.35),
          (32.4, 3.7), (34.4, 3.48), (35.6, 3.43), (36.9, 3.25), (38.9, 2.58), (40.6, 3.82), (42.4, 2.35),
          (43.9, 1.0), (44.9, 0.21), (46.9, 0.14), (48.9, 1.0), (50.1, 2.35), (51.4, 3.7), (52.4, 1.0), (53.9, 0.21),
          (55.6, -0.01), (57.4, -0.13), (59.4, 0.21), (61.9, 1.0), (64.4, 1.23), (65.6, 0.66), (66.9, 1.11),
          (68.1, 0.55), (69.4, 1.0), (70.6, 0.32), (71.9, 1.23), (73.6, 2.31), (74.9, 0.77), (75.6, 1.0),
          (76.9, 1.68), (78.1, 0.77), (79.4, 0.32), (81.9, 0.77), (83.1, 1.0), (84.4, 2.4), (85.6, 1.45),
          (86.9, 0.66), (89.4, 0.21), (91.9, 0.32), (94.4, 0.32), (96.9, 0.32), (99.4, 0.21), (100.6, 0.21),
          (101.9, 1.68), (103.1, 2.24), (104.4, 3.36), (105.6, 3.03), (106.9, 2.35), (108.1, 2.8), (109.4, 5.17),
          (110.6, 2.58), (111.9, 2.8), (113.1, 1.9), (114.4, 3.25), (115.6, 1.79), (116.9, 1.45), (119.4, 1.45),
          (120.6, 1.34), (121.9, 1.0), (123.1, 0.89), (124.4, 0.66), (125.6, 0.89), (126.9, 0.55), (128.1, 1.23),
          (129.4, 2.91), (130.6, 3.25), (131.9, 2.58), (133.1, 1.0), (134.4, 0.32), (136.9, 0.1), (139.4, 0.55),
          (140.6, 1.45), (141.9, 1.45), (143.1, 0.77), (144.4, 0.55), (146.4, 1.34), (148.1, 2.8), (149.4, 1.9),
          (150.6, 1.9), (151.9, 1.23), (153.1, 1.0), (154.4, 0.89), (156.9, 1.0), (158.1, 1.23), (159.4, 1.45),
          (160.6, 0.55), (161.9, 0.21), (164.4, 0.1), (166.9, 0.21), (169.4, 0.32), (171.9, 0.77), (173.1, 2.58),
          (174.4, 5.05), (175.6, 4.15), (176.9, 3.03), (178.1, 1.45), (179.4, 0.77), (180.6, 0.32), (183.1, 0.1),
          (185.6, 0.21), (188.1, 0.55), (189.4, 1.34), (190.6, 1.9), (191.9, 2.01), (193.1, 1.45), (194.4, 1.0),
          (195.6, 0.55), (196.9, 0.77), (199.4, 0.21), (201.9, 0.55), (204.4, 0.21), (206.9, 1.0), (209.4, 1.23),
          (210.6, 1.56), (211.9, 1.9), (213.1, 1.45), (214.4, 1.56), (215.6, 1.0), (216.9, 0.55), (219.4, 0.21),
          (221.9, 0.21), (224.4, 0.32), (226.9, 0.77), (228.1, 2.13), (229.4, 1.9), (230.6, 1.0), (233.1, 0.32),
          (235.6, 0.32), (238.1, 0.32), (241.9, 0.44), (245.6, 0.44), (248.1, 0.55), (249.4, 1.0), (250.6, 0.77),
          (251.9, 0.32), (253.1, 1.23), (254.4, 2.01), (255.6, 4.6), (256.9, 4.38), (258.1, 2.8), (259.4, 3.03),
          (260.6, 2.69), (261.9, 2.13), (263.1, 1.9), (264.4, 1.45), (265.6, 1.23), (268.1, 0.77), (270.6, 0.55),
          (273.1, 0.77), (275.6, 0.55), (278.1, 0.21), (280.6, 0.21), (283.1, 0.1), (285.6, 0.21), (288.1, 0.1),
          (290.6, 0.32), (293.1, 1.11), (295.6, 1.68), (298.1, 1.45), (300.6, 1.68), (301.9, 1.9), (303.1, 1.0),
          (305.6, 0.55), (308.1, 0.21), (310.6, 0.1), (313.1, -0.01), (315.6, 0.1), (318.1, 0.21), (320.6, 0.66),
          (321.9, 1.0), (323.1, 2.91), (324.4, 2.35), (325.6, 4.33), (326.9, 1.68), (328.1, 1.23), (329.4, 0.77),
          (331.9, 0.21), (334.4, 0.21), (336.9, 0.77), (338.1, 1.45), (339.4, 3.25), (340.6, 4.15), (341.9, 5.05),
          (343.1, 6.74), (344.4, 3.03), (345.6, 1.23), (346.9, 0.55), (348.9, 0.1), (350.6, 0.32), (351.9, 1.0)]

N2_SUR = [(1.6, 1.0), (2.8, 0.5), (5.1, 0.17), (7.4, -0.13), (9.1, 0.73), (10.5, 2.76), (11.4, 1.52), (12.3, 2.8),
          (13.3, 0.95), (15.1, 0.5), (18, -0.06), (20.3, 0.28), (22.6, 0.73), (24.5, 1.41), (26.1, 0.95),
          (28.5, 2.31), (30.8, 3.66), (32, 2.98), (33.1, 3.43), (34.3, 2.31), (36.6, 1.74), (38.9, 3.55),
          (40.1, 2.76), (41.3, 2.08), (42.5, 1.41), (43.6, 0.28), (44.8, 0.05), (47.1, 0.17), (49.5, 1.29),
          (50.6, 1.41), (51.8, 0.28), (54.1, -0.06), (56.5, 0.05), (58.8, 0.73), (59.9, 1.29), (62.3, 1.52),
          (63.5, 1.18), (64.6, 0.5), (67, 0.28), (69.3, 0.73), (71.6, 2.31), (72.8, 0.95), (74, 0.28), (75.1, 1.52),
          (76.3, 0.5), (78.6, 0.28), (81, 0.73), (83.3, 1.29), (84.5, 0.5), (86.8, 0.05), (89.2, -0.06),
          (91.5, 0.05), (93.8, 0.28), (97.3, 0.17), (99.7, 0.73), (100.8, 1.68), (103.2, 2.08), (104.3, 1.86),
          (105.5, 2.53), (107.8, 3.55), (109, 2.98), (110.2, 2.53), (112.5, 2.87), (114.8, 2.98), (116, 2.08),
          (118.3, 0.73), (120.7, 0.5), (123, 0.17), (125.3, 0.5), (127.7, 0.73), (129.5, 1.59), (131.2, 0.95),
          (133.5, 0.5), (135.8, 0.28), (138.2, 1.18), (139.3, 2.35), (141.7, 1.29), (144, 1.41), (145.9, 2.08),
          (146.8, 3.93), (148.2, 2.53), (149.8, 0.95), (152.2, 0.5), (154.5, 0.5), (156.8, 0.95), (159.2, 0.28),
          (161.5, 0.28), (163.9, 0.5), (167.3, 0.39), (169.7, 0.73), (170.8, 1.41), (172.5, 2.76), (173.9, 4.33),
          (174.8, 2.08), (176.2, 0.95), (179, 0.73), (181.4, 0.5), (183.7, 0.95), (186, 0.28), (188.4, 1.41),
          (190.7, 1.52), (191.9, 0.95), (194.2, 0.5), (196.5, 0.62), (198.9, 0.28), (201.2, 0.73), (203.6, 1.63),
          (205.4, 5.73), (207.1, 4.22), (208.2, 2.98), (209.4, 1.41), (211.8, 0.95), (214.1, 0.5), (216.4, 0.28),
          (218.7, 0.39), (221, 0.28), (223.4, 0.39), (225.7, 0.73), (227.3, 2.08), (228.7, 0.84), (230.4, 0.28),
          (232.7, 0.73), (235.1, 0.28), (237.4, 0.39), (239.8, 0.28), (242.1, 0.5), (244.4, 0.84), (246.3, 1.0),
          (247.9, 0.28), (250.2, 0.5), (252.6, 1.41), (254.2, 4.56), (255.6, 2.76), (257.2, 2.87), (258.4, 1.86),
          (260.7, 1.0), (263, 1.18), (265.4, 0.5), (267.7, 0.62), (270, 0.28), (272.4, 0.95), (274.7, 0.5),
          (277, 0.28), (279.4, 0.28), (281.7, 0.28), (284.1, 0.17), (286.4, 0.28), (288.7, 0.5), (291.1, 0.95),
          (293.4, 1.18), (295.7, 1.63), (298.1, 1.63), (299.2, 1.18), (301.6, 0.73), (303.9, 0.28), (306.2, 0.05),
          (308.6, -0.06), (310.9, 0.28), (313.2, 0.05), (315.6, 0.17), (317.9, 0.5), (320.2, 1.52), (322.6, 1.41),
          (323.7, 2.31), (325.6, 0.95), (327.2, 0.28), (329.6, 0.5), (331.9, 0.62), (334.2, 0.95), (335.9, 1.29),
          (337.3, 3.88), (338.9, 3.66), (340.1, 6.7), (341.3, 3.43), (342.4, 1.41), (344.3, 0.95), (345.9, 0.28),
          (347.5, 0.17), (349.4, 0.39), (351.3, 1.0)]

N3_SUR = [(1.4, 1.0), (2.5, 0.14), (4.8, -0.19), (7.1, -0.08), (8.7, 0.82), (10, 3.18), (10.9, 1.5), (12.3, 3.03),
          (13.2, 1.27), (15, 0.37), (17.3, -0.08), (19.5, -0.19), (21.8, 0.03), (23.6, 0.82), (25.2, 1.5),
          (27.4, 1.95), (29.7, 2.62), (30.8, 3.97), (31.9, 3.3), (33.1, 3.75), (34.2, 1.95), (35.4, 1.5),
          (37.2, 3.3), (38.8, 3.79), (39.9, 2.4), (42.2, 1.72), (43.3, 0.82), (44.4, 0.14), (46.7, 0.03),
          (49, 0.59), (51.2, 0.48), (53.5, 0.14), (55.8, -0.08), (58, 0.37), (60.3, 2.62), (61.4, 2.85),
          (62.5, 3.03), (63.7, 1.5), (64.8, 0.82), (65.9, 0.26), (67.1, 1.05), (69.3, 0.37), (71.6, 1.72),
          (72.7, 0.59), (73.9, 0.82), (75, 1.38), (76.1, 0.37), (78.4, 0.48), (80.7, 1.05), (82.9, 1.61),
          (84, 1.27), (85.2, 0.37), (87.5, -0.08), (89.7, -0.19), (92, -0.08), (94.3, -0.19), (96.5, 0.14),
          (98.4, 0.93), (99.2, 2.4), (100.6, 4.76), (101.7, 1.95), (102.8, 2.73), (104.4, 2.62), (105.6, 1.72),
          (106.7, 2.4), (107.8, 1.5), (109, 1.95), (110.1, 1.61), (112.4, 1.72), (113.5, 1.95), (114.6, 3.07),
          (115.8, 2.17), (116.9, 1.5), (119.2, 1.05), (120.3, 0.37), (122.5, 0.37), (124.8, 0.48), (127.1, 1.5),
          (128.7, 2.62), (130, 3.34), (131.2, 1.27), (132.7, 0.14), (135, -0.08), (137.3, 1.05), (139.1, 2.51),
          (140, 1.72), (141.8, 1.05), (143.6, 1.5), (145.2, 0.82), (146.8, 1.5), (148.6, 1.05), (150.9, 0.82),
          (153.1, 0.59), (155.9, 1.5), (157.6, 0.82), (159.9, 0.14), (162.2, 0.26), (164.4, 0.37), (166.7, 0.14),
          (169, 0.82), (170.1, 1.27), (171.2, 0.93), (172.3, 1.05), (173.5, 1.95), (174.6, 2.62), (175.8, 0.82),
          (178, 0.37), (180.3, 0.82), (182.6, 1.05), (184.8, 0.37), (187.1, 1.05), (188.9, 2.28), (190.5, 2.28),
          (191.6, 1.61), (193.9, 0.82), (196.1, 0.37), (198.4, 0.59), (200.7, 1.05), (202.9, 1.95), (204, 2.62),
          (205.6, 3.52), (206.8, 2.62), (208.6, 1.95), (210.9, 1.72), (212, 2.17), (213.1, 1.27), (214.3, 0.82),
          (216.5, 0.37), (218.8, 0.14), (221, 0.26), (223.3, 0.37), (225.6, 1.5), (226.7, 2.28), (227.8, 1.5),
          (230.1, 0.82), (232.4, 0.14), (234.6, 0.37), (236.9, 0.26), (239.2, 0.37), (241.4, 0.26), (243.7, 0.59),
          (245.9, 0.37), (248.2, 0.82), (250.5, 0.59), (252.8, 1.5), (253.9, 2.62), (255, 4.31), (256.2, 2.73),
          (257.7, 2.4), (259.6, 2.17), (261.8, 1.83), (264.1, 1.05), (266.3, 0.26), (268.6, 0.59), (270.9, 0.37),
          (273.1, 0.82), (275.4, 0.48), (277.7, 0.14), (279.9, 0.14), (282.2, 0.26), (284.5, 0.14), (286.7, 0.37),
          (289, 0.14), (291.2, 0.59), (293.5, 1.16), (295.8, 1.5), (298, 1.72), (299.2, 1.05), (301.4, 0.82),
          (303.7, 0.14), (306, -0.19), (308.2, -0.08), (310.5, 0.14), (312.8, 0.59), (315, 0.14), (317.3, 0.59),
          (319.6, 1.05), (320.7, 1.5), (322.3, 2.17), (324.1, 0.37), (326.3, 0.14), (328.6, 0.59), (332, 0.82),
          (334.2, 0.82), (336.5, 1.05), (338.3, 2.28), (339.7, 3.3), (340.6, 6.34), (341.9, 3.3), (343.3, 1.27),
          (345.6, 0.37), (347.8, 0.14), (349.6, 0.37)]

# ---------------- layout geometry (pixels of the 1856x1084 page) ----------------
PANELS = [
    dict(top=100.6, x0=40, xfull=620, n=E_LEN, ticks=E_TICKS, shift=10, zero=219.5,
         bars=[E1_A, E1_B, E1_T, E1_C], hyd=E1_HYD, sur=E1_SUR, lab=dict(rows=36, hyd=32, zero=33, sur=28.5)),
    dict(top=100.6, x0=636, xfull=1240, n=E_LEN, ticks=E_TICKS, shift=5, zero=219.5,
         bars=[E2_A, E2_B, E2_T, E2_C], hyd=E2_HYD, sur=E2_SUR, lab=None),
    dict(top=100.6, x0=1256, xfull=1860, n=E_LEN, ticks=E_TICKS, shift=5, zero=219.5,
         bars=[E3_A, E3_B, E3_T, E3_C], hyd=E3_HYD, sur=E3_SUR, lab=None),
    dict(top=540, x0=40, xfull=622, n=NS1_LEN, ticks=NS1_TICKS, shift=3, zero=218,
         bars=[N1_A, N1_B, N1_T, N1_C], hyd=N1_HYD, sur=N1_SUR, lab=dict(rows=30, hyd=26, zero=27, sur=28)),
    dict(top=540, x0=636, xfull=1240, n=NS1_LEN, ticks=NS1_TICKS, shift=4, zero=222.5,
         bars=[N2_A, N2_B, N2_T, N2_C], hyd=N2_HYD, sur=N2_SUR, lab=None),
    dict(top=540, x0=1256, xfull=1860, n=NS1_LEN, ticks=NS1_TICKS, shift=4, zero=222.5,
         bars=[N3_A, N3_B, N3_T, N3_C], hyd=N3_HYD, sur=N3_SUR, lab=None),
]

ROW_STYLE = [  # (row value, fill, border, border width)
    (3, "#dc0000", "#2aa6e0", 2.0),
    (2, "#007a10", "#2aa6e0", 2.0),
    (1, "#00ffff", "#66f4ff", 1.5),
    (0, "#ffff00", "#000000", 1.6),
]
ROW_PX = 36.0      # px between rows
HYD_PX = 9.6       # px per hydrophilicity unit
SUR_PX = 14.8      # px per surface-probability unit
FONT = "Liberation Sans, Arial, Helvetica, sans-serif"

fig = go.Figure()
layout = dict(width=W, height=H, margin=dict(l=0, r=0, t=0, b=0), paper_bgcolor="white",
              plot_bgcolor="rgba(0,0,0,0)", barmode="overlay", showlegend=False,
              font=dict(family=FONT, color="black"))
annotations = []
shapes = []

for i, p in enumerate(PANELS):
    T = p["top"]
    x1 = min(p["xfull"], W)
    pxres = (p["xfull"] - p["x0"]) / (p["n"] - 1)
    rend = 1 + (x1 - p["x0"]) / pxres
    xdom = [fx(p["x0"]), fx(x1)]
    names = []
    for j in range(3):
        k = 3 * i + j + 1
        names.append(("x" if k == 1 else f"x{k}", "y" if k == 1 else f"y{k}",
                      "xaxis" if k == 1 else f"xaxis{k}", "yaxis" if k == 1 else f"yaxis{k}"))

    # --- structure bars subplot ---
    xr, yr, xa, ya = names[0]
    btop, bbot = T + 24, T + 162
    layout[xa] = dict(domain=xdom, range=[1, rend], side="top", anchor=yr, tickmode="array",
                      tickvals=p["ticks"], ticktext=[str(t) for t in p["ticks"]], ticks="", tickangle=0,
                      showgrid=False, zeroline=False, showline=False, fixedrange=True,
                      tickfont=dict(size=17, color="black", family=FONT), ticklabelshift=p["shift"],
                      ticklabelstandoff=0)
    layout[ya] = dict(domain=[fy(bbot), fy(btop)], range=[(144.5 - bbot + T) / ROW_PX, (144.5 - btop + T) / ROW_PX],
                      anchor=xr, visible=False, fixedrange=True)
    for (rv, fill, border, bw), regions in zip(ROW_STYLE, p["bars"]):
        colors = [fill] * len(regions)
        if rv == 1 and regions:
            colors[0] = "#1e8fe6"
        fig.add_trace(go.Bar(orientation="h", y=[rv] * len(regions), base=[s for s, e in regions],
                             x=[e - s for s, e in regions], width=0.44,
                             marker=dict(color=colors, line=dict(color=border, width=bw)),
                             xaxis=xr, yaxis=yr, hoverinfo="skip", showlegend=False))

    # --- hydrophilicity subplot ---
    xr, yr, xa, ya = names[1]
    htop, hbot = T + 166, T + 275
    z = T + p["zero"]
    layout[xa] = dict(domain=xdom, range=[1, rend], anchor=yr, visible=False, fixedrange=True)
    layout[ya] = dict(domain=[fy(hbot), fy(htop)], range=[(z - hbot) / HYD_PX, (z - htop) / HYD_PX],
                      anchor=xr, visible=False, fixedrange=True)
    hx = [a for a, b in p["hyd"]]
    hy = [b for a, b in p["hyd"]]
    fig.add_trace(go.Scatter(x=[1, p["n"]], y=[0, 0], mode="lines", line=dict(width=0, color="#0000ff"),
                             xaxis=xr, yaxis=yr, hoverinfo="skip", showlegend=False))
    fig.add_trace(go.Scatter(x=hx, y=hy, mode="lines", line=dict(color="#0000ff", width=1.2),
                             fill="tonexty", fillcolor="#a8a8f2",
                             fillpattern=dict(shape="x", fgcolor="#0000e6", bgcolor="#b0b0f4", size=3,
                                              solidity=0.45),
                             xaxis=xr, yaxis=yr, hoverinfo="skip", showlegend=False))
    fig.add_trace(go.Scatter(x=[1, p["n"]], y=[0, 0], mode="lines", line=dict(width=1.6, color="#3a3aff"),
                             xaxis=xr, yaxis=yr, hoverinfo="skip", showlegend=False))

    # --- surface probability subplot ---
    xr, yr, xa, ya = names[2]
    stop, sbot = T + 276, T + 391
    b1 = T + 370.5
    layout[xa] = dict(domain=xdom, range=[1, rend], anchor=yr, visible=False, fixedrange=True)
    layout[ya] = dict(domain=[fy(sbot), fy(stop)], range=[1 + (b1 - sbot) / SUR_PX, 1 + (b1 - stop) / SUR_PX],
                      anchor=xr, visible=False, fixedrange=True)
    sx = [a for a, b in p["sur"]]
    sy = [b for a, b in p["sur"]]
    fig.add_trace(go.Scatter(x=[1, p["n"]], y=[1, 1], mode="lines", line=dict(width=0, color="#0000ff"),
                             xaxis=xr, yaxis=yr, hoverinfo="skip", showlegend=False))
    fig.add_trace(go.Scatter(x=sx, y=sy, mode="lines", line=dict(color="#0000ff", width=1.2),
                             fill="tonexty", fillcolor="#ffff00",
                             xaxis=xr, yaxis=yr, hoverinfo="skip", showlegend=False))
    fig.add_trace(go.Scatter(x=[1, p["n"]], y=[1, 1], mode="lines", line=dict(width=2, color="#4a4aff"),
                             xaxis=xr, yaxis=yr, hoverinfo="skip", showlegend=False))

    # --- left-hand labels (only fully visible in the first column) ---
    lab = p["lab"]
    if lab:
        for lbl, off in zip(ROW_LABELS, [36.5, 73, 108.5, 144.5]):
            annotations.append(dict(x=fx(lab["rows"]), y=fy(T + off), text=lbl, font=dict(size=18)))
        for lbl, off, lx in zip(HYD_LABELS, [178, p["zero"], 264], [lab["hyd"], lab["zero"], lab["hyd"]]):
            annotations.append(dict(x=fx(lx), y=fy(T + off), text=lbl, font=dict(size=18)))
        for lbl, off in zip(SUR_LABELS, [296.5, 370.5]):
            annotations.append(dict(x=fx(lab["sur"]), y=fy(T + off), text=lbl, font=dict(size=18)))
    else:
        for off in [178, 264]:
            annotations.append(dict(x=fx(p["x0"] + 0.5), y=fy(T + off), text="5", font=dict(size=18)))

for a in annotations:
    a.update(xref="paper", yref="paper", showarrow=False, xanchor="center", yanchor="middle")

# ---------------- frames ----------------
LINE = dict(color="#111111", width=2.2)
RIGHT = 1.03
for (t, b) in [(9.5, 57), (100.6, 492.2), (540, 931.8), (943.4, 1100)]:
    shapes.append(dict(type="rect", xref="paper", yref="paper", x0=fx(12), x1=RIGHT, y0=fy(b), y1=fy(t),
                       line=LINE, fillcolor="rgba(0,0,0,0)", layer="above"))
for xd in [633.3, 1252.4]:
    for (t, b) in [(9.5, 54), (100.6, 492.2), (540, 931.8)]:
        shapes.append(dict(type="line", xref="paper", yref="paper", x0=fx(xd), x1=fx(xd), y0=fy(b), y1=fy(t),
                           line=LINE, layer="above"))

for name, cx in zip(COLUMNS, [316, 936, 1542]):
    annotations.append(dict(x=fx(cx), y=fy(31.5), xref="paper", yref="paper", text=f"<b>{name}</b>",
                            showarrow=False, font=dict(size=20), xanchor="center", yanchor="middle"))
for name, cy in zip(PROTEINS, [80.5, 517]):
    annotations.append(dict(x=fx(15), y=fy(cy), xref="paper", yref="paper", text=f"<b><i>{name}</i></b>",
                            showarrow=False, font=dict(size=18), xanchor="left", yanchor="middle"))

# ---------------- legend ----------------
annotations.append(dict(x=fx(44), y=fy(962), xref="paper", yref="paper", text=f"<b>{LEGEND_TITLE}</b>",
                        showarrow=False, font=dict(size=21), xanchor="left", yanchor="middle"))
SWATCHES = [  # (x0, y0, x1, y1, fill, border, border width)
    (42, 993, 51.5, 1009, "#ff0000", "#5a0000", 1),
    (42, 1045, 51.5, 1061, "#007a10", "#003000", 1),
    (421, 1002, 431, 1017, "#00ffff", "#004a70", 1.5),
    (421, 1055, 431, 1071, "#ffff00", "#000000", 2.5),
    (1014, 1002, 1024, 1017, "#7c7cd8", "#1a1a80", 1),
    (1014, 1054, 1024, 1070, "#ffff00", "#0000ff", 2.5),
]
TEXT_POS = [(56, 1000), (56, 1050), (440, 1010), (440, 1062), (1031, 1010), (1045, 1062)]
for (sx0, sy0, sx1, sy1, fc, lc, lw), (tx, ty), txt in zip(SWATCHES, TEXT_POS, LEGEND_ITEMS):
    shapes.append(dict(type="rect", xref="paper", yref="paper", x0=fx(sx0), x1=fx(sx1), y0=fy(sy1), y1=fy(sy0),
                       fillcolor=fc, line=dict(color=lc, width=lw)))
    annotations.append(dict(x=fx(tx), y=fy(ty), xref="paper", yref="paper", text=txt, showarrow=False,
                            font=dict(size=21), xanchor="left", yanchor="middle"))

layout["annotations"] = annotations
layout["shapes"] = shapes
fig.update_layout(**layout)
fig.write_html("out.html")
